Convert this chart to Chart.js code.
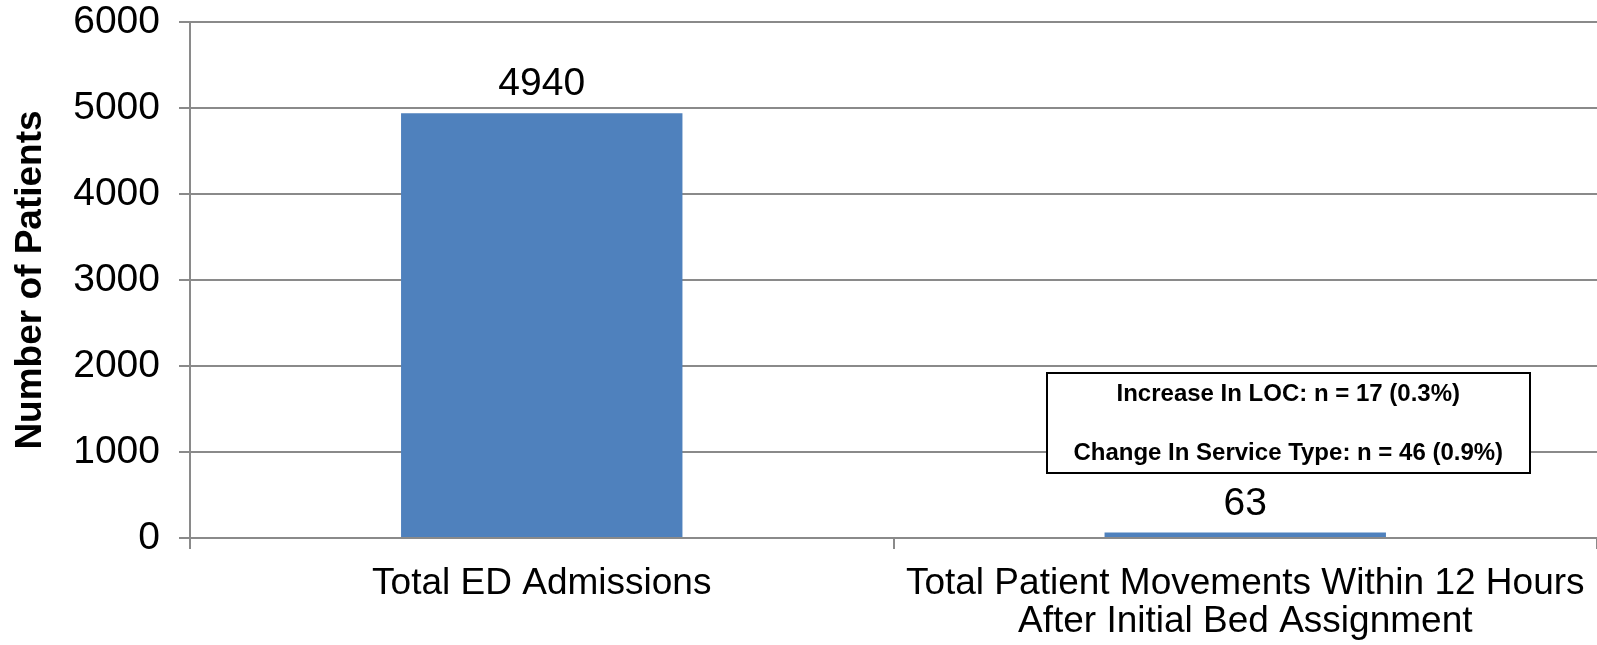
<!DOCTYPE html>
<html>
<head>
<meta charset="utf-8">
<script src="https://cdn.jsdelivr.net/npm/chart.js@4/dist/chart.umd.min.js"></script>
<style>
  html, body { margin: 0; padding: 0; background: #ffffff; }
  #wrap { width: 1597px; height: 645px; position: relative; }
</style>
</head>
<body>
<div id="wrap"><canvas id="c" width="1597" height="645"></canvas></div>
<script>
// Admissions and early patient movements
const categories = [
  ['Total ED Admissions'],
  ['Total Patient Movements Within 12 Hours', 'After Initial Bed Assignment']
];
const patientCounts = [4940, 63];
const yTicks = [0, 1000, 2000, 3000, 4000, 5000, 6000];
const breakdownLines = [
  'Increase In LOC: n = 17 (0.3%)',
  'Change In Service Type: n = 46 (0.9%)'
];

const FONT = '"Liberation Sans", Arial, Helvetica, sans-serif';
const GRID = '#8a8a8a';

// Numbers written above each bar
const valueLabels = {
  id: 'valueLabels',
  afterDatasetsDraw(chart) {
    const ctx = chart.ctx;
    const meta = chart.getDatasetMeta(0);
    ctx.save();
    ctx.font = '39px ' + FONT;
    ctx.fillStyle = '#000000';
    ctx.textAlign = 'center';
    ctx.textBaseline = 'bottom';
    meta.data.forEach((bar, i) => {
      ctx.fillText(String(patientCounts[i]), bar.x, bar.y - 9);
    });
    ctx.restore();
  }
};

// Breakdown box beside the second bar
const breakdownBox = {
  id: 'breakdownBox',
  afterDatasetsDraw(chart) {
    const ctx = chart.ctx;
    const xs = chart.scales.x, ys = chart.scales.y;
    const cx = xs.getPixelForValue(1) + 43;
    const w = 483;
    const top = Math.round(ys.getPixelForValue(1920));
    const bottom = Math.round(ys.getPixelForValue(757));
    const left = Math.round(cx - w / 2);
    ctx.save();
    ctx.fillStyle = '#ffffff';
    ctx.fillRect(left, top, w, bottom - top);
    ctx.strokeStyle = '#000000';
    ctx.lineWidth = 2;
    ctx.strokeRect(left, top, w, bottom - top);
    ctx.font = 'bold 24px ' + FONT;
    ctx.fillStyle = '#000000';
    ctx.textAlign = 'center';
    ctx.textBaseline = 'middle';
    const h = bottom - top;
    ctx.fillText(breakdownLines[0], cx, top + h * 0.215);
    ctx.fillText(breakdownLines[1], cx, top + h * 0.80);
    ctx.restore();
  }
};

new Chart(document.getElementById('c'), {
  type: 'bar',
  data: {
    labels: categories,
    datasets: [{
      data: patientCounts,
      backgroundColor: '#4f81bd',
      borderWidth: 0,
      categoryPercentage: 0.8,
      barPercentage: 0.5
    }]
  },
  options: {
    responsive: false,
    animation: false,
    events: [],
    layout: { padding: { top: 22, left: 9, right: 0, bottom: 0 } },
    plugins: { legend: { display: false }, tooltip: { enabled: false } },
    scales: {
      x: {
        grid: {
          offset: true,
          drawOnChartArea: false,
          drawTicks: true,
          tickLength: 11,
          color: GRID,
          lineWidth: 2
        },
        border: { display: true, color: GRID, width: 2 },
        ticks: {
          color: '#000000',
          font: { family: FONT, size: 37, lineHeight: 1.02 },
          padding: 16,
          maxRotation: 0,
          autoSkip: false
        },
        afterFit(scale) {
          scale.height = 107;
          scale.paddingLeft = 0;
          scale.paddingRight = 0;
        }
      },
      y: {
        min: 0,
        max: 6000,
        afterBuildTicks(scale) { scale.ticks = yTicks.map(v => ({ value: v })); },
        grid: {
          color: GRID,
          lineWidth: 2,
          tickLength: 11
        },
        border: { display: true, color: GRID, width: 2 },
        ticks: {
          color: '#000000',
          font: { family: FONT, size: 39 },
          padding: 19,
          callback: (v) => String(v)
        },
        title: {
          display: true,
          text: 'Number of Patients',
          color: '#000000',
          font: { family: FONT, size: 37, weight: 'bold' },
          padding: { top: 0, bottom: 0 }
        },
        afterFit(scale) {
          scale.width = 181;
          scale.paddingTop = 0;
          scale.paddingBottom = 0;
        }
      }
    }
  },
  plugins: [valueLabels, breakdownBox]
});
</script>
</body>
</html>
